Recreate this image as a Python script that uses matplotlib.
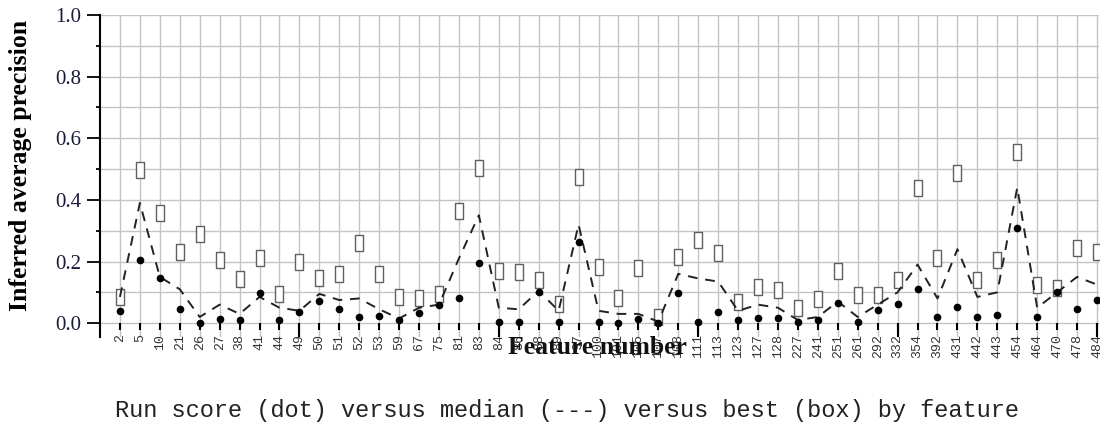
import matplotlib
matplotlib.use("Agg")
import matplotlib.pyplot as plt
import numpy as np

features = [2, 5, 10, 21, 26, 27, 38, 41, 44, 49, 50, 51, 52, 53, 59, 67, 75, 81, 83, 84,
            86, 88, 89, 97, 100, 101, 105, 107, 108, 111, 113, 123, 127, 128, 227, 241, 251,
            261, 292, 332, 354, 392, 431, 442, 443, 454, 464, 470, 478, 484]

run_score = [0.04, 0.205, 0.146, 0.045, 0.0, 0.013, 0.01, 0.097, 0.01, 0.035,
             0.072, 0.045, 0.02, 0.022, 0.01, 0.032, 0.058, 0.08, 0.195, 0.003,
             0.005, 0.1, 0.005, 0.263, 0.005, 0.0, 0.012, 0.0, 0.098, 0.005,
             0.035, 0.01, 0.016, 0.016, 0.005, 0.01, 0.065, 0.005, 0.042, 0.062,
             0.11, 0.02, 0.052, 0.02, 0.025, 0.31, 0.02, 0.1, 0.045, 0.075]

median = [0.085, 0.39, 0.15, 0.11, 0.02, 0.06, 0.03, 0.085, 0.05, 0.04,
          0.095, 0.075, 0.08, 0.045, 0.015, 0.05, 0.06, 0.21, 0.35, 0.05,
          0.045, 0.105, 0.04, 0.32, 0.04, 0.03, 0.03, 0.005, 0.16, 0.145,
          0.135, 0.04, 0.06, 0.05, 0.01, 0.02, 0.07, 0.02, 0.06, 0.1,
          0.19, 0.08, 0.24, 0.085, 0.1, 0.44, 0.05, 0.1, 0.15, 0.125]

best = [0.085, 0.497, 0.357, 0.23, 0.29, 0.205, 0.143, 0.21, 0.095, 0.2,
        0.147, 0.158, 0.26, 0.16, 0.085, 0.08, 0.095, 0.363, 0.503, 0.17,
        0.165, 0.14, 0.062, 0.474, 0.183, 0.08, 0.18, 0.02, 0.215, 0.27,
        0.227, 0.068, 0.117, 0.107, 0.05, 0.077, 0.17, 0.09, 0.09, 0.14,
        0.438, 0.21, 0.487, 0.14, 0.205, 0.555, 0.123, 0.115, 0.243, 0.23]

y_ticks = [0.0, 0.2, 0.4, 0.6, 0.8, 1.0]

W, H = 1105, 429
fig = plt.figure(figsize=(W / 100, H / 100), dpi=100)
ax = fig.add_axes([100 / W, (H - 337) / H, 999 / W, (337 - 15) / H])

pos = np.arange(1, len(features) + 1)

# grid
for p in pos:
    ax.axvline(p, color="#c4c4c4", lw=1.0, zorder=0)
for v in np.arange(0, 1.01, 0.1):
    ax.axhline(v, color="#c4c4c4", lw=1.0, zorder=0)

rect = [(-0.5, -1), (0.5, -1), (0.5, 1), (-0.5, 1), (-0.5, -1)]
ax.plot(pos, best, linestyle="none", marker=rect, markersize=11.5,
        markerfacecolor="white", markeredgecolor="#606060", markeredgewidth=1.0, zorder=2)
ax.plot(pos, median, linestyle=(0, (5, 4)), color="#222222", lw=1.4, zorder=3)
ax.plot(pos, run_score, linestyle="none", marker="o", markersize=4.5,
        color="black", zorder=4)

ax.set_xlim(0, 50.1)
ax.set_ylim(-0.045, 1.0)

for s in ["top", "right"]:
    ax.spines[s].set_visible(False)
ax.spines["bottom"].set_position(("data", 0))
ax.spines["bottom"].set_visible(False)
ax.spines["left"].set_linewidth(1.5)

ax.set_yticks(y_ticks)
ax.set_yticklabels([f"{v:.1f}" for v in y_ticks], fontfamily="Liberation Serif",
                   fontsize=15, color="#1a1a3a")
ax.set_yticks(np.arange(0.1, 1.0, 0.2), minor=True)
ax.tick_params(axis="y", which="major", length=9.5, width=1.3, pad=4, direction="out")
ax.tick_params(axis="y", which="minor", length=3, width=1.3, direction="out")

ax.xaxis.remove_overlapping_locs = False
ax.set_xticks(pos)
ax.set_xticklabels([str(f) for f in features], rotation=90, fontfamily="Liberation Mono",
                   fontsize=9.5, color="#333333")
ax.set_xticks([10, 20, 30, 40, 50], minor=True)
ax.tick_params(axis="x", which="major", length=5, width=1.5, pad=3, direction="out")
ax.tick_params(axis="x", which="minor", length=10, width=1.5, direction="out")

fig.text(21 / W, 1 - 165 / H, "Inferred average precision", rotation=90,
         ha="center", va="center", fontfamily="Liberation Serif", fontweight="bold",
         fontsize=18.5)
fig.text(597 / W, 1 - 348 / H, "Feature number", ha="center", va="center",
         fontfamily="Liberation Serif", fontweight="bold", fontsize=18.5, color="#111111")
fig.text(567 / W, 1 - 410 / H,
         "Run score (dot) versus median (---) versus best (box) by feature",
         ha="center", va="center", fontfamily="Liberation Mono", fontsize=17,
         color="#222222")

fig.savefig("out.png", dpi=100)
